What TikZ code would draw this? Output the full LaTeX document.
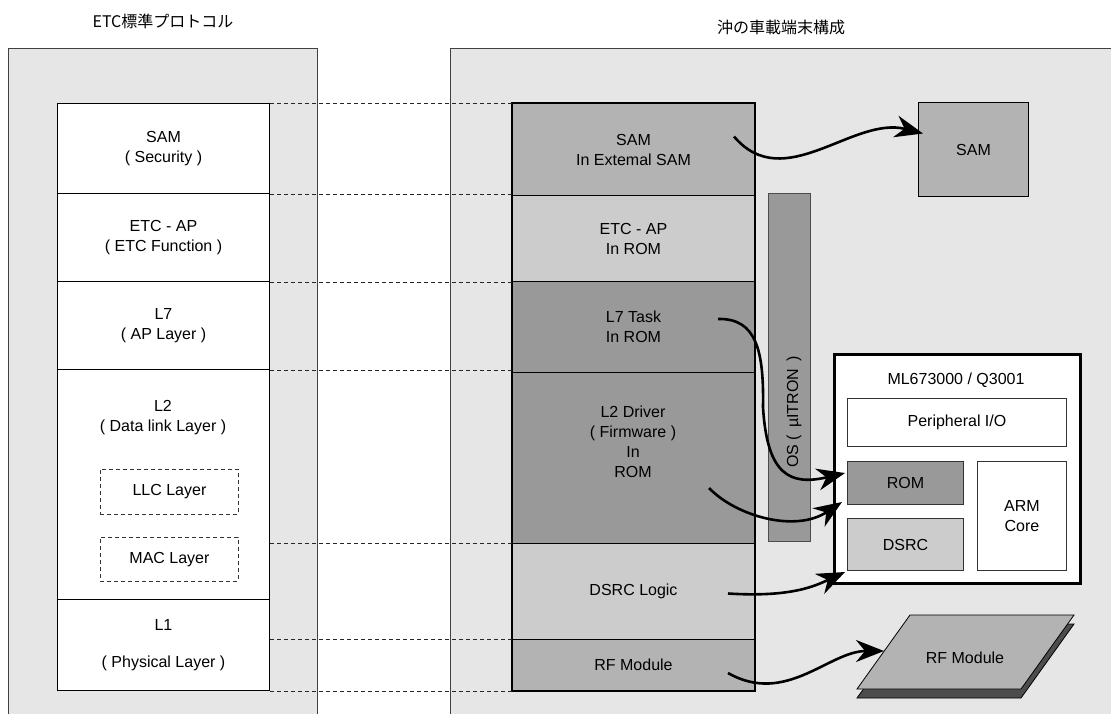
\documentclass[tikz,border=0pt]{standalone}
\usepackage{fontspec}
\setmainfont{Liberation Sans}
\newfontfamily\jpfont{Noto Sans CJK JP}
\usepackage{xcolor}
\definecolor{panel-fill}{HTML}{E6E6E6}
\definecolor{mid-fill}{HTML}{B3B3B3}
\definecolor{light-fill}{HTML}{CCCCCC}
\definecolor{dark-fill}{HTML}{999999}
\definecolor{shadow-fill}{HTML}{4D4D4D}
\usepackage{tikz}
\usetikzlibrary{
  arrows.meta
}

\begin{document}
\begin{tikzpicture}[
    x=1pt, y=-1pt,
    font=\fontsize{16}{20}\selectfont,
    panel/.style={
      rectangle,
      draw=black!75,
      fill=panel-fill,
      line width=1.2pt,
      anchor=north west,
      inner sep=0pt
    },
    layer/.style={
      rectangle,
      draw=black,
      fill=white,
      line width=1pt,
      anchor=north west,
      inner sep=0pt,
      minimum width=212pt,
      align=center
    },
    sublayer/.style={
      rectangle,
      draw=black!80,
      dash pattern=on 4pt off 3pt,
      line width=0.9pt,
      anchor=north west,
      inner sep=0pt,
      minimum width=138pt
    },
    block/.style={
      rectangle,
      draw=black,
      line width=1pt,
      anchor=north west,
      inner sep=0pt,
      minimum width=242pt,
      align=center
    },
    part/.style={
      rectangle,
      draw=black!80,
      line width=1pt,
      anchor=north west,
      inner sep=0pt,
      align=center
    },
    plate/.style={
      draw=black,
      line width=0.8pt,
      line join=miter
    },
    guide/.style={
      dash pattern=on 4pt off 3pt,
      line width=0.8pt,
      color=black!85
    },
    flow/.style={
      -{Stealth[length=28pt, width=22pt, inset=9pt]},
      line width=2.6pt
    }
  ]
    \useasboundingbox (0,0) rectangle (1111,713);
    \clip (0,0) rectangle (1111,713);

    % ---- Titles ----
    \node[font=\jpfont\fontsize{16}{20}\selectfont] (ltitle) at (163,21) {ETC標準プロトコル};
    \node[font=\jpfont\fontsize{16}{20}\selectfont] (rtitle) at (781,27) {沖の車載端末構成};

    % ---- Panels ----
    \node[panel, minimum width=309pt, minimum height=690pt] (lpanel) at (8,48) {};
    \node[panel, minimum width=690pt, minimum height=690pt] (rpanel) at (450,48) {};

    % ---- Standard protocol stack ----
    \node[layer, minimum height=90pt] (lsam) at (57,103) {SAM\\( Security )};
    \node[layer, minimum height=88pt] (letc) at (57,193) {ETC - AP\\( ETC Function )};
    \node[layer, minimum height=88pt] (ll7)  at (57,281) {L7\\( AP Layer )};
    \node[layer, minimum height=230pt] (ll2) at (57,369) {};
    \node[layer, minimum height=91pt] (ll1)  at (57,599) {L1\\[17pt]( Physical Layer )};
    \node[align=center] (l2name) at (163,418) {L2\\( Data link Layer )};
    \node[sublayer, minimum height=45pt] (llc) at (100,469) {LLC Layer};
    \node[sublayer, minimum height=44pt] (mac) at (100,537) {MAC Layer};

    % ---- Terminal stack ----
    \node[block, fill=mid-fill, minimum height=92pt]   (rsam)  at (512,103) {SAM\\In Extemal SAM};
    \node[block, fill=light-fill, minimum height=86pt] (retc)  at (512,195) {ETC - AP\\In ROM};
    \node[block, fill=dark-fill, minimum height=91pt]  (rl7)   at (512,281) {L7 Task\\In ROM};
    \node[block, fill=dark-fill, minimum height=171pt] (rl2)   at (512,372) {};
    \node[block, fill=light-fill, minimum height=96pt] (rdsrc) at (512,543) {DSRC Logic};
    \node[block, fill=mid-fill, minimum height=51pt]   (rrf)   at (512,639) {RF Module};
    \node[align=center] (l2drv) at (633,442) {L2 Driver\\( Firmware )\\In\\ROM};
    \draw[line width=2.5pt] (rsam.north west) rectangle (rrf.south east);

    % ---- OS bar ----
    \node[part, fill=dark-fill, draw=black!70, minimum width=42pt, minimum height=348pt] (osbar) at (768,193) {};
    \node[rotate=90] (osname) at (794,412) {OS (\, µITRON\, )};

    % ---- ML673000 chip ----
    \node[part, fill=white, draw=black, line width=2.5pt, minimum width=246pt, minimum height=229pt] (mlbox) at (833,353) {};
    \node (mltitle) at (956,380) {ML673000 / Q3001};
    \node[part, fill=white, minimum width=219pt, minimum height=48pt] (pio) at (847,398) {Peripheral I/O};
    \node[part, fill=dark-fill, minimum width=116pt, minimum height=43pt] (rom) at (847,461) {ROM};
    \node[part, fill=light-fill, minimum width=116pt, minimum height=52pt] (dsrcchip) at (847,518) {DSRC};
    \node[part, fill=white, minimum width=89pt, minimum height=109pt] (arm) at (977,461) {ARM\\Core};

    % ---- External parts ----
    \node[part, fill=mid-fill, draw=black, minimum width=110pt, minimum height=94pt] (samchip) at (918,102) {SAM};
    \filldraw[plate, fill=shadow-fill] (857,698) -- (910,624) -- (1074,624) -- (1021,698) -- cycle;
    \filldraw[plate, fill=mid-fill] (857,689) -- (910,615) -- (1074,615) -- (1021,689) -- cycle;
    \node (rfmod) at (965,658) {RF Module};
    \coordinate (rfedge) at (884,651);

    % ---- Layer guides ----
    \draw[guide] (lsam.north east) -- (rsam.north west);
    \draw[guide] (lsam.south east) -- (lsam.south east -| rsam.west);
    \draw[guide] (letc.south east) -- (letc.south east -| rsam.west);
    \draw[guide] (ll7.south east) -- (ll7.south east -| rsam.west);
    \draw[guide] (rdsrc.north west -| ll2.east) -- (rdsrc.north west);
    \draw[guide] (rrf.north west -| ll1.east) -- (rrf.north west);
    \draw[guide] (ll1.south east) -- (rrf.south west);

    % ---- Mapping arrows ----
    \draw[flow] ([shift={(-21,-13)}]rsam.east)
      .. controls +(50,59) and +(-70,-18) .. ([shift={(5,-16)}]samchip.west);
    \draw[flow] ([shift={(-37,-8)}]rl7.east)
      .. controls +(38,-1) and +(1,-57) .. ++(45,88)
      .. controls +(4,68) and +(-55,13) .. ([shift={(-2,-10)}]rom.west);
    \draw[flow] ([shift={(-46,30)}]rl2.east)
      .. controls +(27,28) and +(-47,31) .. ([shift={(-5,-3)}]rom.south west);
    \draw[flow] ([shift={(-27,2)}]rdsrc.east)
      .. controls +(63,4) and +(-30,14) .. ([shift={(-2,1)}]dsrcchip.south west);
    \draw[flow] ([shift={(-27,8)}]rrf.east)
      .. controls +(58,33) and +(-55,0) .. (rfedge);
  \end{tikzpicture}
\end{document}
